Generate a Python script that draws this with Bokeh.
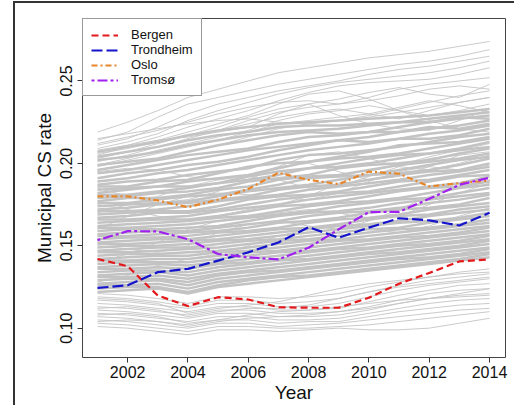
from bokeh.plotting import figure
from bokeh.models import Range1d, FixedTicker, Legend, LegendItem, NumeralTickFormatter
from bokeh.embed import file_html
from bokeh.resources import INLINE

years = list(range(2001, 2015))
x_ticks = [2002, 2004, 2006, 2008, 2010, 2012, 2014]
y_ticks = [0.10, 0.15, 0.20, 0.25]
y_tick_labels = ["0.10", "0.15", "0.20", "0.25"]

bergen = [0.142, 0.1376, 0.1198, 0.1134, 0.1188, 0.1174, 0.1127, 0.1124, 0.1124, 0.1185, 0.127, 0.1335, 0.1405, 0.1417]
trondheim = [0.1244, 0.126, 0.134, 0.136, 0.141, 0.146, 0.152, 0.1613, 0.1549, 0.161, 0.1667, 0.1654, 0.1623, 0.170]
oslo = [0.180, 0.180, 0.1775, 0.1734, 0.178, 0.1845, 0.1943, 0.190, 0.1874, 0.195, 0.1937, 0.186, 0.188, 0.1896]
tromso = [0.1534, 0.1589, 0.1587, 0.154, 0.145, 0.143, 0.1417, 0.1488, 0.160, 0.1704, 0.1706, 0.1785, 0.187, 0.1913]

grey_upper = [
    [0.219, 0.225, 0.232, 0.240, 0.245, 0.250, 0.255, 0.258, 0.261, 0.264, 0.266, 0.268, 0.271, 0.274],
    [0.214, 0.219, 0.228, 0.236, 0.240, 0.244, 0.248, 0.251, 0.254, 0.257, 0.260, 0.262, 0.265, 0.269],
    [0.211, 0.215, 0.222, 0.230, 0.236, 0.240, 0.244, 0.247, 0.250, 0.254, 0.257, 0.259, 0.262, 0.265],
    [0.209, 0.213, 0.218, 0.226, 0.232, 0.237, 0.242, 0.246, 0.249, 0.251, 0.253, 0.255, 0.258, 0.262],
    [0.207, 0.211, 0.216, 0.222, 0.227, 0.232, 0.238, 0.243, 0.247, 0.249, 0.250, 0.251, 0.254, 0.258],
    [0.205, 0.210, 0.214, 0.219, 0.224, 0.229, 0.236, 0.242, 0.244, 0.239, 0.232, 0.226, 0.221, 0.219],
    [0.212, 0.216, 0.220, 0.225, 0.230, 0.234, 0.237, 0.238, 0.236, 0.240, 0.245, 0.248, 0.250, 0.252],
    [0.203, 0.207, 0.212, 0.217, 0.222, 0.228, 0.233, 0.236, 0.239, 0.243, 0.246, 0.242, 0.240, 0.248],
    [0.201, 0.205, 0.210, 0.215, 0.220, 0.226, 0.231, 0.234, 0.236, 0.238, 0.241, 0.245, 0.247, 0.245],
    [0.206, 0.209, 0.213, 0.217, 0.220, 0.224, 0.228, 0.231, 0.233, 0.230, 0.227, 0.232, 0.237, 0.240],
    [0.199, 0.203, 0.208, 0.212, 0.216, 0.220, 0.226, 0.230, 0.232, 0.235, 0.232, 0.229, 0.232, 0.236],
    [0.208, 0.211, 0.214, 0.216, 0.219, 0.222, 0.230, 0.236, 0.229, 0.224, 0.221, 0.220, 0.226, 0.233],
    [0.198, 0.202, 0.206, 0.210, 0.214, 0.219, 0.224, 0.226, 0.228, 0.230, 0.234, 0.238, 0.235, 0.231],
    [0.215, 0.218, 0.221, 0.224, 0.226, 0.227, 0.225, 0.224, 0.226, 0.229, 0.233, 0.237, 0.241, 0.244],
    [0.196, 0.199, 0.203, 0.207, 0.211, 0.216, 0.221, 0.224, 0.226, 0.228, 0.231, 0.234, 0.237, 0.240],
]

grey_core = [
    [0.207, 0.210, 0.213, 0.217, 0.220, 0.222, 0.224, 0.225, 0.226, 0.227, 0.228, 0.229, 0.231, 0.233],
    [0.204, 0.207, 0.210, 0.214, 0.217, 0.219, 0.222, 0.223, 0.223, 0.224, 0.225, 0.227, 0.229, 0.231],
    [0.202, 0.204, 0.207, 0.211, 0.214, 0.217, 0.219, 0.220, 0.221, 0.223, 0.225, 0.225, 0.227, 0.229],
    [0.199, 0.201, 0.203, 0.207, 0.211, 0.214, 0.217, 0.219, 0.218, 0.219, 0.222, 0.225, 0.228, 0.227],
    [0.196, 0.199, 0.202, 0.205, 0.207, 0.209, 0.213, 0.216, 0.217, 0.219, 0.219, 0.221, 0.223, 0.226],
    [0.194, 0.196, 0.199, 0.202, 0.205, 0.208, 0.210, 0.212, 0.214, 0.216, 0.219, 0.222, 0.221, 0.224],
    [0.191, 0.194, 0.196, 0.199, 0.201, 0.204, 0.208, 0.211, 0.214, 0.213, 0.215, 0.218, 0.220, 0.223],
    [0.189, 0.191, 0.194, 0.196, 0.199, 0.202, 0.205, 0.208, 0.210, 0.212, 0.215, 0.215, 0.217, 0.221],
    [0.187, 0.189, 0.190, 0.193, 0.195, 0.197, 0.202, 0.205, 0.206, 0.208, 0.210, 0.213, 0.216, 0.218],
    [0.186, 0.186, 0.189, 0.190, 0.194, 0.198, 0.200, 0.201, 0.204, 0.207, 0.211, 0.212, 0.213, 0.216],
    [0.184, 0.185, 0.186, 0.189, 0.191, 0.193, 0.197, 0.201, 0.203, 0.204, 0.206, 0.209, 0.212, 0.215],
    [0.182, 0.184, 0.186, 0.186, 0.188, 0.192, 0.195, 0.197, 0.200, 0.203, 0.205, 0.206, 0.209, 0.213],
    [0.181, 0.181, 0.183, 0.185, 0.188, 0.190, 0.193, 0.197, 0.198, 0.200, 0.203, 0.206, 0.208, 0.210],
    [0.179, 0.180, 0.182, 0.183, 0.185, 0.189, 0.191, 0.193, 0.197, 0.199, 0.200, 0.202, 0.206, 0.209],
    [0.177, 0.179, 0.179, 0.181, 0.184, 0.186, 0.190, 0.192, 0.193, 0.196, 0.199, 0.201, 0.203, 0.206],
    [0.176, 0.176, 0.178, 0.180, 0.181, 0.184, 0.187, 0.191, 0.192, 0.193, 0.196, 0.199, 0.202, 0.204],
    [0.174, 0.175, 0.176, 0.177, 0.180, 0.183, 0.185, 0.187, 0.190, 0.193, 0.194, 0.196, 0.199, 0.203],
    [0.172, 0.173, 0.175, 0.176, 0.178, 0.180, 0.184, 0.186, 0.187, 0.190, 0.193, 0.195, 0.196, 0.200],
    [0.171, 0.171, 0.172, 0.174, 0.177, 0.179, 0.181, 0.184, 0.186, 0.188, 0.190, 0.193, 0.195, 0.198],
    [0.169, 0.170, 0.171, 0.171, 0.174, 0.178, 0.180, 0.181, 0.183, 0.186, 0.189, 0.190, 0.193, 0.196],
    [0.167, 0.168, 0.170, 0.170, 0.172, 0.175, 0.178, 0.180, 0.182, 0.183, 0.186, 0.189, 0.192, 0.193],
    [0.166, 0.166, 0.167, 0.168, 0.171, 0.173, 0.175, 0.178, 0.180, 0.182, 0.184, 0.186, 0.188, 0.192],
    [0.164, 0.165, 0.166, 0.166, 0.168, 0.171, 0.174, 0.175, 0.177, 0.180, 0.183, 0.185, 0.186, 0.189],
    [0.162, 0.163, 0.164, 0.165, 0.167, 0.168, 0.171, 0.174, 0.176, 0.177, 0.179, 0.182, 0.185, 0.187],
    [0.161, 0.161, 0.162, 0.163, 0.165, 0.167, 0.169, 0.171, 0.174, 0.176, 0.178, 0.179, 0.182, 0.185],
    [0.159, 0.160, 0.160, 0.161, 0.162, 0.165, 0.168, 0.170, 0.171, 0.173, 0.176, 0.178, 0.180, 0.182],
    [0.157, 0.158, 0.159, 0.159, 0.161, 0.163, 0.165, 0.168, 0.170, 0.171, 0.173, 0.176, 0.178, 0.181],
    [0.156, 0.156, 0.157, 0.158, 0.159, 0.161, 0.164, 0.165, 0.167, 0.170, 0.172, 0.173, 0.175, 0.179],
    [0.154, 0.155, 0.155, 0.156, 0.158, 0.159, 0.161, 0.164, 0.166, 0.167, 0.169, 0.172, 0.174, 0.176],
    [0.152, 0.153, 0.154, 0.154, 0.156, 0.158, 0.160, 0.161, 0.163, 0.166, 0.168, 0.169, 0.172, 0.174],
    [0.151, 0.151, 0.152, 0.153, 0.154, 0.156, 0.158, 0.160, 0.162, 0.163, 0.165, 0.168, 0.170, 0.172],
    [0.149, 0.150, 0.150, 0.151, 0.153, 0.154, 0.156, 0.158, 0.160, 0.162, 0.164, 0.165, 0.167, 0.170],
    [0.147, 0.148, 0.149, 0.149, 0.151, 0.153, 0.154, 0.156, 0.158, 0.160, 0.161, 0.164, 0.166, 0.168],
    [0.146, 0.146, 0.147, 0.148, 0.149, 0.151, 0.153, 0.154, 0.156, 0.158, 0.160, 0.161, 0.163, 0.166],
    [0.144, 0.145, 0.145, 0.146, 0.147, 0.149, 0.151, 0.153, 0.154, 0.156, 0.158, 0.160, 0.162, 0.164],
    [0.142, 0.143, 0.144, 0.144, 0.146, 0.147, 0.149, 0.151, 0.153, 0.154, 0.156, 0.158, 0.160, 0.162],
    [0.141, 0.141, 0.142, 0.142, 0.144, 0.146, 0.147, 0.149, 0.151, 0.153, 0.155, 0.156, 0.158, 0.161],
    [0.139, 0.140, 0.140, 0.140, 0.142, 0.144, 0.146, 0.147, 0.149, 0.151, 0.153, 0.155, 0.157, 0.159],
    [0.137, 0.138, 0.139, 0.138, 0.140, 0.142, 0.144, 0.146, 0.148, 0.149, 0.151, 0.153, 0.155, 0.157],
    [0.136, 0.136, 0.137, 0.136, 0.139, 0.140, 0.142, 0.144, 0.146, 0.148, 0.150, 0.151, 0.153, 0.156],
    [0.134, 0.135, 0.135, 0.134, 0.137, 0.139, 0.141, 0.142, 0.144, 0.146, 0.148, 0.150, 0.152, 0.154],
    [0.132, 0.133, 0.134, 0.132, 0.135, 0.137, 0.139, 0.141, 0.143, 0.145, 0.146, 0.148, 0.150, 0.153],
    [0.131, 0.131, 0.132, 0.130, 0.133, 0.135, 0.137, 0.139, 0.141, 0.143, 0.145, 0.147, 0.149, 0.151],
    [0.129, 0.130, 0.130, 0.128, 0.132, 0.134, 0.135, 0.137, 0.139, 0.141, 0.143, 0.145, 0.147, 0.149],
    [0.127, 0.128, 0.129, 0.126, 0.130, 0.132, 0.134, 0.136, 0.138, 0.140, 0.142, 0.143, 0.145, 0.148],
    [0.126, 0.126, 0.127, 0.124, 0.128, 0.130, 0.132, 0.134, 0.136, 0.138, 0.140, 0.142, 0.144, 0.146],
    [0.124, 0.125, 0.125, 0.122, 0.126, 0.129, 0.131, 0.132, 0.134, 0.136, 0.138, 0.140, 0.142, 0.145],
    [0.122, 0.123, 0.124, 0.121, 0.125, 0.127, 0.129, 0.131, 0.133, 0.135, 0.137, 0.139, 0.141, 0.143],
]

grey_cross = [
    [0.185, 0.180, 0.176, 0.178, 0.183, 0.190, 0.198, 0.205, 0.207, 0.203, 0.198, 0.196, 0.200, 0.205],
    [0.160, 0.168, 0.175, 0.180, 0.182, 0.181, 0.179, 0.178, 0.182, 0.189, 0.195, 0.198, 0.196, 0.199],
    [0.140, 0.145, 0.152, 0.160, 0.165, 0.168, 0.170, 0.172, 0.170, 0.166, 0.168, 0.175, 0.182, 0.188],
    [0.175, 0.172, 0.168, 0.165, 0.168, 0.172, 0.175, 0.180, 0.188, 0.195, 0.199, 0.204, 0.208, 0.212],
    [0.150, 0.148, 0.146, 0.150, 0.158, 0.163, 0.165, 0.162, 0.160, 0.165, 0.172, 0.180, 0.185, 0.190],
    [0.195, 0.197, 0.196, 0.192, 0.190, 0.193, 0.198, 0.200, 0.195, 0.190, 0.192, 0.198, 0.205, 0.210],
    [0.128, 0.132, 0.138, 0.142, 0.145, 0.150, 0.156, 0.160, 0.163, 0.160, 0.158, 0.162, 0.168, 0.173],
    [0.170, 0.175, 0.180, 0.186, 0.190, 0.192, 0.190, 0.185, 0.186, 0.192, 0.198, 0.203, 0.205, 0.207],
]

grey_lower = [
    [0.101, 0.100, 0.098, 0.096, 0.099, 0.099, 0.098, 0.099, 0.100, 0.099, 0.099, 0.100, 0.103, 0.106],
    [0.103, 0.102, 0.100, 0.098, 0.101, 0.101, 0.100, 0.100, 0.101, 0.102, 0.104, 0.106, 0.108, 0.110],
    [0.105, 0.104, 0.102, 0.100, 0.103, 0.103, 0.101, 0.102, 0.103, 0.105, 0.107, 0.109, 0.111, 0.112],
    [0.107, 0.106, 0.104, 0.102, 0.105, 0.105, 0.103, 0.104, 0.104, 0.107, 0.110, 0.112, 0.114, 0.115],
    [0.109, 0.108, 0.106, 0.104, 0.107, 0.107, 0.105, 0.105, 0.106, 0.109, 0.112, 0.115, 0.117, 0.118],
    [0.111, 0.110, 0.108, 0.106, 0.109, 0.109, 0.107, 0.107, 0.108, 0.111, 0.115, 0.118, 0.120, 0.121],
    [0.113, 0.112, 0.110, 0.108, 0.111, 0.111, 0.109, 0.109, 0.110, 0.113, 0.117, 0.121, 0.123, 0.124],
    [0.115, 0.114, 0.112, 0.110, 0.113, 0.113, 0.111, 0.111, 0.112, 0.116, 0.120, 0.123, 0.126, 0.127],
    [0.117, 0.116, 0.114, 0.112, 0.115, 0.115, 0.113, 0.113, 0.115, 0.119, 0.123, 0.126, 0.128, 0.130],
    [0.119, 0.118, 0.116, 0.113, 0.117, 0.117, 0.115, 0.116, 0.118, 0.122, 0.126, 0.129, 0.131, 0.133],
    [0.121, 0.120, 0.118, 0.115, 0.119, 0.119, 0.118, 0.119, 0.121, 0.125, 0.128, 0.131, 0.134, 0.136],
    [0.112, 0.113, 0.111, 0.107, 0.110, 0.112, 0.112, 0.114, 0.118, 0.122, 0.125, 0.127, 0.129, 0.131],
    [0.104, 0.105, 0.104, 0.101, 0.104, 0.106, 0.107, 0.108, 0.110, 0.112, 0.115, 0.118, 0.121, 0.124],
    [0.118, 0.117, 0.115, 0.109, 0.112, 0.114, 0.116, 0.120, 0.124, 0.127, 0.129, 0.131, 0.133, 0.134],
    [0.108, 0.109, 0.107, 0.103, 0.105, 0.108, 0.110, 0.111, 0.113, 0.115, 0.117, 0.118, 0.119, 0.120],
]

FONT = "Liberation Sans"

p = figure(width=501, height=404, output_backend="svg", toolbar_location=None,
           x_range=Range1d(2000.503, 2014.53), y_range=Range1d(0.0822, 0.2879),
           min_border_left=67, min_border_top=15, min_border_right=11, min_border_bottom=50)
p.styles = {"margin-left": "13px", "margin-top": "1px",
            "border-left": "2px solid #333", "border-top": "2px solid #333"}

p.background_fill_color = "white"
p.border_fill_color = "white"
p.outline_line_color = "#444"
p.outline_line_width = 1
p.grid.visible = False

thin_grey = grey_upper + grey_cross + grey_lower
p.multi_line(xs=[years] * len(grey_core), ys=grey_core, line_color="#c3c3c3", line_width=2.5)
p.multi_line(xs=[years] * len(thin_grey), ys=thin_grey, line_color="#c4c4c4", line_width=0.9)

r_b = p.line(years, bergen, line_color="#e3191c", line_width=2.2, line_dash="7 4")
r_t = p.line(years, trondheim, line_color="#1414cc", line_width=2.2, line_dash="11 4")
r_o = p.line(years, oslo, line_color="#e8862a", line_width=2.2, line_dash="6 3 2 3")
r_r = p.line(years, tromso, line_color="#a020f0", line_width=2.2, line_dash="3 3 10 3")

for ax in (p.xaxis[0], p.yaxis[0]):
    ax.axis_line_color = None
    ax.major_tick_line_color = "#333"
    ax.major_tick_out = 5
    ax.major_tick_in = 0
    ax.minor_tick_line_color = None
    ax.major_label_text_font = FONT
    ax.major_label_text_font_size = "16px"
    ax.major_label_text_color = "#111"
    ax.axis_label_text_font = FONT
    ax.axis_label_text_font_size = "19px"
    ax.axis_label_text_font_style = "normal"
    ax.axis_label_text_color = "#111"

p.xaxis.ticker = FixedTicker(ticks=x_ticks)
p.xaxis.axis_label = "Year"
p.xaxis.major_label_standoff = 3
p.xaxis.axis_label_standoff = 1

p.yaxis.ticker = FixedTicker(ticks=y_ticks)
p.yaxis.formatter = NumeralTickFormatter(format="0.00")
p.yaxis.major_label_overrides = dict(zip(y_ticks, y_tick_labels))
p.yaxis.major_label_orientation = "vertical"
p.yaxis.axis_label = "Municipal CS rate"
p.yaxis.major_label_standoff = 5
p.yaxis.axis_label_standoff = 3

legend = Legend(items=[LegendItem(label="Bergen", renderers=[r_b]),
                       LegendItem(label="Trondheim", renderers=[r_t]),
                       LegendItem(label="Oslo", renderers=[r_o]),
                       LegendItem(label="Tromsø", renderers=[r_r])],
                location="top_left", margin=0, padding=8, spacing=0,
                label_standoff=13, glyph_width=27, glyph_height=14, label_height=14,
                label_text_font=FONT, label_text_font_size="13px", label_text_color="#111",
                border_line_color="#333", border_line_width=1,
                background_fill_color="white", background_fill_alpha=1)
p.add_layout(legend)

open("out.html", "w").write(file_html(p, INLINE))
